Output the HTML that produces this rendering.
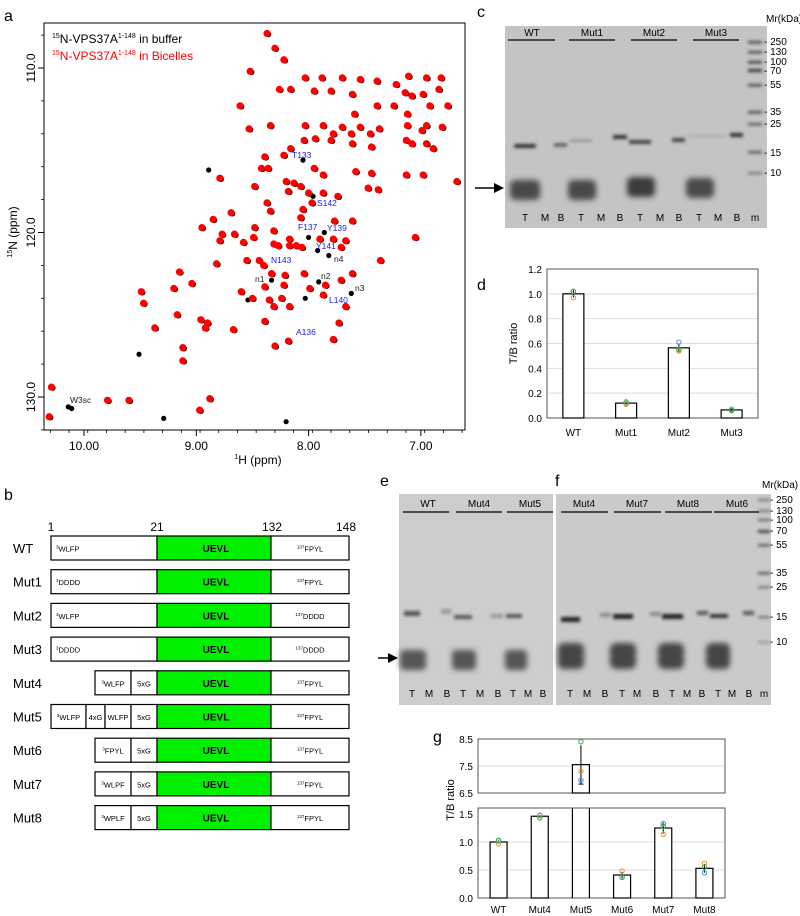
<!DOCTYPE html>
<html><head><meta charset="utf-8"><style>
html,body{margin:0;padding:0;background:#fff}
svg{display:block;font-family:"Liberation Sans",Arial,sans-serif}
</style></head><body>
<svg id="fig" width="800" height="916" viewBox="0 0 800 916" xmlns="http://www.w3.org/2000/svg">
<defs>
<filter id="bl" x="-50%" y="-50%" width="200%" height="200%"><feGaussianBlur stdDeviation="1.6"/></filter>
<filter id="bl2" x="-50%" y="-50%" width="200%" height="200%"><feGaussianBlur stdDeviation="3"/></filter>
</defs>
<!-- panel letters -->
<text x="4" y="21" font-size="16">a</text>
<text x="4" y="500" font-size="16">b</text>
<text x="477" y="17" font-size="16">c</text>
<text x="477" y="290" font-size="16">d</text>
<text x="380" y="486" font-size="16">e</text>
<text x="555" y="486" font-size="16">f</text>
<text x="433" y="742" font-size="16">g</text>

<!-- panel a -->
<g id="nmr">
<rect x="44" y="23" width="421" height="407" fill="none" stroke="#000" stroke-width="1"/>
<g id="peaks"></g>
<g id="nmrAxes"></g>
<text x="52" y="43" font-size="12" fill="#000"><tspan font-size="7" dy="-5">15</tspan><tspan dy="5">N-VPS37A</tspan><tspan font-size="7" dy="-5">1-148</tspan><tspan dy="5"> in buffer</tspan></text>
<text x="52" y="60" font-size="12" fill="#f00"><tspan font-size="7" dy="-5">15</tspan><tspan dy="5">N-VPS37A</tspan><tspan font-size="7" dy="-5">1-148</tspan><tspan dy="5"> in Bicelles</tspan></text>
<g font-size="8.5" fill="#1a1aff">
<text x="292" y="158">T133</text>
<text x="317" y="206">S142</text>
<text x="298" y="230">F137</text>
<text x="327" y="231">Y139</text>
<text x="316" y="249">Y141</text>
<text x="271" y="263">N143</text>
<text x="329" y="303">L140</text>
<text x="296" y="335">A136</text>
</g>
<g font-size="8.5" fill="#222">
<text x="334" y="262">n4</text>
<text x="255" y="282">n1</text>
<text x="321" y="279">n2</text>
<text x="355" y="291">n3</text>
<text x="70" y="403">W3sc</text>
</g>
<text x="258" y="464" font-size="12" text-anchor="middle"><tspan font-size="7" dy="-5">1</tspan><tspan dy="5">H (ppm)</tspan></text>
<text transform="translate(17,232) rotate(-90)" font-size="12" text-anchor="middle"><tspan font-size="7" dy="-5">15</tspan><tspan dy="5">N (ppm)</tspan></text>
</g>

<!-- panel b -->
<g id="constructs">
<g font-size="12">
<text x="51" y="531" text-anchor="middle">1</text>
<text x="157" y="531" text-anchor="middle">21</text>
<text x="272" y="531" text-anchor="middle">132</text>
<text x="346" y="531" text-anchor="middle">148</text>
</g>
<g id="rows"></g>
</g>

<!-- panel c gel -->
<g>
<rect x="505" y="26" width="262" height="202" fill="#c4c4c4"/>
<g filter="url(#bl)" fill="#333">
<rect x="514" y="144" width="22" height="4" rx="2"/>
<rect x="554" y="143" width="13" height="4" fill="#666"/>
<rect x="570" y="139" width="22" height="3" fill="#999"/>
<rect x="613" y="135" width="14" height="4"/>
<rect x="629" y="140" width="22" height="4" fill="#444"/>
<rect x="672" y="138" width="13" height="4" fill="#444"/>
<rect x="688" y="135" width="22" height="2" fill="#a8a8a8"/>
<rect x="710" y="135" width="16" height="2" fill="#a8a8a8"/>
<rect x="730" y="133" width="13" height="4"/>
<rect x="748" y="41" width="14" height="2.5" fill="#444"/><rect x="748" y="51" width="14" height="2.5" fill="#444"/>
<rect x="748" y="61" width="14" height="2.5" fill="#333"/><rect x="748" y="69" width="14" height="3" fill="#333"/>
<rect x="748" y="84" width="14" height="2.5" fill="#444"/><rect x="748" y="111" width="14" height="2.5" fill="#444"/>
<rect x="748" y="123" width="14" height="2.5" fill="#555"/><rect x="748" y="151" width="14" height="2.5" fill="#555"/>
<rect x="748" y="172" width="14" height="2.5" fill="#777"/>
</g>
<g filter="url(#bl2)" fill="#4a4a4a">
<rect x="510" y="180" width="30" height="20" rx="5"/>
<rect x="568" y="180" width="28" height="20" rx="5"/>
<rect x="627" y="177" width="28" height="20" rx="5" fill="#3a3a3a"/>
<rect x="686" y="178" width="28" height="20" rx="5"/>
</g>
<g stroke="#000" stroke-width="1.2">
<line x1="508" y1="40" x2="555" y2="40"/><line x1="569" y1="40" x2="615" y2="40"/>
<line x1="631" y1="40" x2="677" y2="40"/><line x1="693" y1="40" x2="739" y2="40"/>
</g>
<g font-size="10" text-anchor="middle">
<text x="532" y="36">WT</text><text x="592" y="36">Mut1</text><text x="654" y="36">Mut2</text><text x="716" y="36">Mut3</text>
</g>
<g font-size="10" text-anchor="middle">
<text x="525" y="221">T</text><text x="545" y="221">M</text><text x="561" y="221">B</text>
<text x="581" y="221">T</text><text x="601" y="221">M</text><text x="620" y="221">B</text>
<text x="640" y="221">T</text><text x="660" y="221">M</text><text x="679" y="221">B</text>
<text x="699" y="221">T</text><text x="718" y="221">M</text><text x="737" y="221">B</text>
<text x="755" y="221">m</text>
</g>
<g font-size="10">
<text x="766" y="22">Mr(kDa)</text>
<text x="764" y="45">- 250</text><text x="764" y="55">- 130</text><text x="764" y="65">- 100</text><text x="764" y="74">- 70</text>
<text x="764" y="88">- 55</text><text x="764" y="115">- 35</text><text x="764" y="127">- 25</text><text x="764" y="156">- 15</text><text x="764" y="176">- 10</text>
</g>
<path d="M475 188 H500" stroke="#000" stroke-width="1.5"/><path d="M504 188 L494 183 L494 193 Z" fill="#000"/>
</g>

<!-- panel d -->
<g id="chartD"></g>

<!-- panels e,f gel -->
<g>
<rect x="399" y="494" width="154" height="211" fill="#cdcdcd"/>
<g filter="url(#bl)">
<rect x="404" y="611" width="16" height="5" fill="#555"/><rect x="441" y="609" width="10" height="5" fill="#999"/>
<rect x="454" y="615" width="18" height="4" fill="#555"/><rect x="491" y="614" width="12" height="4" fill="#999"/>
<rect x="506" y="614" width="16" height="4" fill="#555"/>
</g>
<g filter="url(#bl2)" fill="#555">
<rect x="400" y="650" width="26" height="20" rx="4"/><rect x="452" y="650" width="24" height="20" rx="4"/><rect x="505" y="650" width="22" height="20" rx="4"/>
</g>
<g stroke="#000" stroke-width="1.2"><line x1="403" y1="512" x2="449" y2="512"/><line x1="456" y1="512" x2="502" y2="512"/><line x1="507" y1="512" x2="553" y2="512"/></g>
<g font-size="10" text-anchor="middle"><text x="428" y="507">WT</text><text x="479" y="507">Mut4</text><text x="530" y="507">Mut5</text></g>
<g font-size="10" text-anchor="middle">
<text x="412" y="697">T</text><text x="429" y="697">M</text><text x="447" y="697">B</text>
<text x="463" y="697">T</text><text x="480" y="697">M</text><text x="498" y="697">B</text>
<text x="513" y="697">T</text><text x="528" y="697">M</text><text x="543" y="697">B</text>
</g>
<path d="M378 658 H394" stroke="#000" stroke-width="1.5"/><path d="M398 658 L388 653 L388 663 Z" fill="#000"/>
</g>
<g>
<rect x="556" y="494" width="215" height="211" fill="#cacaca"/>
<g filter="url(#bl)">
<rect x="561" y="617" width="19" height="5" fill="#222"/><rect x="600" y="613" width="11" height="4" fill="#888"/>
<rect x="613" y="614" width="20" height="5" fill="#222"/><rect x="650" y="612" width="11" height="4" fill="#888"/>
<rect x="662" y="614" width="21" height="5" fill="#222"/><rect x="697" y="611" width="11" height="4" fill="#555"/>
<rect x="710" y="614" width="18" height="4" fill="#333"/><rect x="743" y="611" width="11" height="4" fill="#555"/>
<rect x="758" y="499" width="12" height="2" fill="#666"/><rect x="758" y="510" width="12" height="2" fill="#666"/>
<rect x="758" y="519" width="12" height="2" fill="#555"/><rect x="758" y="530" width="12" height="3" fill="#444"/>
<rect x="758" y="544" width="12" height="2.5" fill="#555"/><rect x="758" y="572" width="12" height="2.5" fill="#555"/>
<rect x="758" y="586" width="12" height="2.5" fill="#777"/><rect x="758" y="616" width="12" height="2.5" fill="#777"/>
<rect x="758" y="641" width="12" height="2.5" fill="#999"/>
</g>
<g filter="url(#bl2)" fill="#444">
<rect x="558" y="643" width="26" height="26" rx="6"/><rect x="610" y="643" width="26" height="26" rx="6"/>
<rect x="658" y="643" width="26" height="26" rx="6"/><rect x="706" y="643" width="24" height="26" rx="6"/>
</g>
<g stroke="#000" stroke-width="1.2"><line x1="561" y1="512" x2="608" y2="512"/><line x1="614" y1="512" x2="661" y2="512"/><line x1="665" y1="512" x2="712" y2="512"/><line x1="714" y1="512" x2="759" y2="512"/></g>
<g font-size="10" text-anchor="middle"><text x="584" y="507">Mut4</text><text x="637" y="507">Mut7</text><text x="688" y="507">Mut8</text><text x="737" y="507">Mut6</text></g>
<g font-size="10" text-anchor="middle">
<text x="570" y="697">T</text><text x="587" y="697">M</text><text x="605" y="697">B</text>
<text x="622" y="697">T</text><text x="637" y="697">M</text><text x="656" y="697">B</text>
<text x="672" y="697">T</text><text x="687" y="697">M</text><text x="702" y="697">B</text>
<text x="718" y="697">T</text><text x="732" y="697">M</text><text x="749" y="697">B</text><text x="764" y="697">m</text>
</g>
<g font-size="10">
<text x="762" y="488">Mr(kDa)</text>
<text x="770" y="503">- 250</text><text x="770" y="514">- 130</text><text x="770" y="523">- 100</text><text x="770" y="534">- 70</text>
<text x="770" y="548">- 55</text><text x="770" y="576">- 35</text><text x="770" y="590">- 25</text><text x="770" y="620">- 15</text><text x="770" y="645">- 10</text>
</g>
</g>

<!-- panel g -->
<g id="chartG"></g>
</svg>
<script>
// ===== NMR data (1H ppm, 15N ppm) =====
const redH=[8.37,8.30,8.22,8.52,8.26,8.16,8.61,8.03,7.88,7.70,7.54,7.39,7.11,6.95,6.82,7.22,7.14,7.08,6.98,6.84,7.95,7.80,7.61,7.59,7.39,7.24,7.12,6.92,6.76,8.53,8.34,8.03,7.87,7.70,7.54,7.37,7.12,6.95,6.81,7.78,7.62,7.45,6.99,8.04,7.94,7.80,7.61,7.44,7.13,7.08,6.95,6.89,8.16,8.22,8.39,8.42,8.36,7.95,7.87,7.58,7.44,7.13,6.98,6.68,8.79,8.48,8.20,8.13,8.18,8.07,8.00,7.87,7.74,7.47,7.38,8.37,7.97,8.34,8.05,8.85,8.69,8.07,7.77,7.61,8.95,8.48,8.77,8.66,8.31,8.17,7.90,7.78,7.67,8.79,8.58,8.49,8.31,8.27,8.17,8.11,8.06,7.71,7.05,8.55,8.44,8.40,8.82,7.36,9.15,8.33,8.21,8.04,7.61,7.85,7.71,7.99,8.39,8.22,9.20,9.04,9.49,9.47,8.60,8.50,8.35,8.24,8.31,8.17,7.87,7.67,9.17,8.96,8.90,8.92,9.37,8.67,8.39,7.73,7.78,8.30,8.18,9.12,9.12,10.29,9.79,9.60,8.88,8.97,10.31];
const redN=[107.9,108.8,109.5,110.2,111.3,111.3,112.3,110.6,110.6,110.6,110.7,110.8,110.5,110.6,110.6,111.0,111.5,111.7,111.6,111.3,111.4,111.4,111.6,112.8,112.3,112.3,112.8,112.3,112.3,113.7,113.5,113.5,113.5,113.6,113.6,113.7,113.5,113.5,113.6,114.0,114.0,114.0,113.8,114.4,114.3,114.4,114.6,114.8,114.4,114.6,114.6,114.9,114.9,115.3,115.4,116.1,116.1,116.1,116.5,116.3,116.4,116.5,116.5,116.9,116.7,117.2,116.9,117.0,117.5,117.2,117.6,117.6,117.8,117.3,117.4,118.2,118.2,118.7,118.6,119.2,118.8,119.1,119.3,119.3,119.7,119.7,120.1,120.1,119.9,120.4,120.4,120.4,120.5,120.5,120.6,120.3,120.7,120.8,120.8,120.8,120.9,120.9,120.3,121.7,121.7,122.0,121.9,121.7,122.4,122.5,122.6,122.5,122.5,123.2,122.9,123.4,123.3,123.2,123.4,123.1,123.6,124.3,123.6,124.0,124.1,124.0,124.5,124.5,123.8,124.5,125.0,125.3,125.5,125.8,125.8,125.9,125.4,125.5,126.5,126.9,126.6,127.0,127.8,129.4,130.2,130.2,130.1,130.8,131.2];
const blackH=[8.89,9.51,9.29,8.20,10.14,8.33,7.91,7.62,7.82,7.92,8.00,7.86,7.96,8.05,8.03,8.54,10.11];
const blackN=[116.2,127.4,131.3,131.5,130.6,122.9,123.0,123.7,121.4,121.1,120.3,120.0,117.8,115.6,124.0,124.1,130.7];
const xTicksA=[10,9,8,7];
const yTicksA=[110,120,130];
const NS='http://www.w3.org/2000/svg';
function mk(tag,attrs,parent){const e=document.createElementNS(NS,tag);for(const k in attrs)e.setAttribute(k,attrs[k]);parent.appendChild(e);return e;}
const hx=h=>84+(10-h)*112.3, ny=n=>68+(n-110)*16.45;
const pk=document.getElementById('peaks');
redH.forEach((h,i)=>{const c=mk('circle',{cx:hx(h)+1.2,cy:ny(redN[i])+0.8,r:3,fill:'#000'},pk);

});
blackH.forEach((h,i)=>{const c=mk('circle',{cx:hx(h),cy:ny(blackN[i]),r:2.6,fill:'#000'},pk);

});
redH.forEach((h,i)=>{const c=mk('circle',{cx:hx(h),cy:ny(redN[i]),r:3.6,fill:'#f00'},pk);

});
const ax=document.getElementById('nmrAxes');
for(let v=10.3;v>=6.6;v-=1/6){mk('line',{x1:hx(v),x2:hx(v),y1:430,y2:433,stroke:'#000','stroke-width':0.8},ax);}
xTicksA.forEach(v=>{mk('line',{x1:hx(v),x2:hx(v),y1:430,y2:436,stroke:'#000'},ax);
const t=mk('text',{x:hx(v),y:450,'font-size':12,'text-anchor':'middle'},ax);t.textContent=v.toFixed(2);

});
for(let v=108;v<=132;v+=2){mk('line',{x1:41,x2:44,y1:ny(v),y2:ny(v),stroke:'#000','stroke-width':0.8},ax);}
yTicksA.forEach(v=>{mk('line',{x1:38,x2:44,y1:ny(v),y2:ny(v),stroke:'#000'},ax);
const t=mk('text',{transform:`translate(35,${ny(v)}) rotate(-90)`,'font-size':12,'text-anchor':'middle'},ax);t.textContent=v.toFixed(1);

});

// ===== constructs =====
const rowNames=['WT','Mut1','Mut2','Mut3','Mut4','Mut5','Mut6','Mut7','Mut8'];
const nTerm=[[['WLFP','3']],[['DDDD','3']],[['WLFP','3']],[['DDDD','3']],[['WLFP','3'],['5xG','']],[['WLFP','3'],['4xG',''],['WLFP',''],['5xG','']],[['FPYL','3'],['5xG','']],[['WLPF','3'],['5xG','']],[['WPLF','3'],['5xG','']]];
const cTerm=['FPYL','FPYL','DDDD','DDDD','FPYL','FPYL','FPYL','FPYL','FPYL'];
const rowsG=document.getElementById('rows');
rowNames.forEach((nm,i)=>{
 const y=536+i*33.7, g=mk('g',{},rowsG);
 
 
 const l=mk('text',{x:13,y:y+17,'font-size':13},g);l.textContent=nm;
 let segs;
 if(i<4) segs=[[51,157]]; else if(i===5) segs=[[51,86],[86,105],[105,131],[131,157]]; else segs=[[95,131],[131,157]];
 segs.forEach((s,j)=>{mk('rect',{x:s[0],y:y,width:s[1]-s[0],height:24,fill:'#fff',stroke:'#000','stroke-width':1.2},g);
  const lab=nTerm[i][j]; const t=mk('text',{x:(i<4?56:(s[0]+s[1])/2),y:y+15.5,'font-size':7.5,'text-anchor':(i<4?'start':'middle')},g);
  if(lab[1]){const ts=mk('tspan',{'font-size':4.5,dy:-3},t);ts.textContent=lab[1];const t2=mk('tspan',{dy:3},t);t2.textContent=lab[0];}else t.textContent=lab[0];});
 mk('rect',{x:157,y:y,width:114,height:24,fill:'#00f000',stroke:'#000','stroke-width':1.2},g);
 const u=mk('text',{x:216,y:y+16,'font-size':10,'font-weight':'bold','text-anchor':'middle'},g);u.textContent='UEVL';
 mk('rect',{x:271,y:y,width:78,height:24,fill:'#fff',stroke:'#000','stroke-width':1.2},g);
 const c=mk('text',{x:310,y:y+15.5,'font-size':7.5,'text-anchor':'middle'},g);
 const s1=mk('tspan',{'font-size':4.5,dy:-3},c);s1.textContent='137';const s2=mk('tspan',{dy:3},c);s2.textContent=cTerm[i];
});

// ===== chart d =====
const catD=['WT','Mut1','Mut2','Mut3'];
const meanD=[1.0,0.12,0.565,0.065];
const errD=[0.03,0.01,0.035,0.007];
const ptsD=[[1.02,0.97,1.02],[0.12,0.11,0.13],[0.61,0.54,0.55],[0.07,0.06,0.06]];
const ticksD=[0,0.2,0.4,0.6,0.8,1.0,1.2];
const ptCol=['#4a90d9','#f08a30','#2db34a'];
(function(){
 const g=document.getElementById('chartD');
 const L=547,R=758,T=269,B=418,yv=v=>B-(v/1.2)*(B-T);
 const bx=i=>L+(i+0.5)*(R-L)/catD.length;
 ticksD.forEach(v=>{if(v>0&&v<1.2)mk('line',{x1:L,x2:R,y1:yv(v),y2:yv(v),stroke:'#ddd'},g);
  const t=mk('text',{x:L-5,y:yv(v)+4,'font-size':10,'text-anchor':'end'},g);t.textContent=v.toFixed(1);
  
  });
 mk('rect',{x:L,y:T,width:R-L,height:B-T,fill:'none',stroke:'#555'},g);
 catD.forEach((c,i)=>{const x=bx(i);
  const r=mk('rect',{x:x-10.5,y:yv(meanD[i]),width:21,height:B-yv(meanD[i]),fill:'#fff',stroke:'#000','stroke-width':1.2},g);
  
  
  mk('line',{x1:x,x2:x,y1:yv(meanD[i]+errD[i]),y2:yv(meanD[i]-errD[i]),stroke:'#000'},g);
  ptsD[i].forEach((p,k)=>{const cc=mk('circle',{cx:x,cy:yv(p),r:2.2,fill:'none',stroke:ptCol[k],'stroke-width':1},g);
   
   });
  const t=mk('text',{x:x,y:436,'font-size':10,'text-anchor':'middle'},g);t.textContent=c;
  
  });
 const tt=mk('text',{transform:`translate(517,${(T+B)/2}) rotate(-90)`,'font-size':11,'text-anchor':'middle'},g);tt.textContent='T/B ratio';
 
 
})();

// ===== chart g (broken axis) =====
const catG=['WT','Mut4','Mut5','Mut6','Mut7','Mut8'];
const meanG=[1.0,1.46,7.55,0.41,1.25,0.53];
const errG=[0.03,0.02,0.72,0.06,0.1,0.08];
const ptsG=[[1.03,0.97,1.02],[1.47,1.48,1.43],[6.97,7.3,8.4],[0.37,0.48,0.37],[1.33,1.14,1.28],[0.45,0.62,0.55]];
const ticksGTop=[6.5,7.5,8.5];
const ticksGBot=[0,0.5,1.0,1.5];
(function(){
 const g=document.getElementById('chartG');
 const L=478,R=725;
 const tT=739,tB=793,yt=v=>tB-(v-6.5)/2*(tB-tT);
 const bT=808,bB=898,yb=v=>bB-v*56;
 const bx=i=>L+(i+0.5)*(R-L)/catG.length;
 ticksGTop.forEach(v=>{if(v===7.5)mk('line',{x1:L,x2:R,y1:yt(v),y2:yt(v),stroke:'#ddd'},g);
  const t=mk('text',{x:L-5,y:yt(v)+4,'font-size':10,'text-anchor':'end'},g);t.textContent=v.toFixed(1);
  
  });
 ticksGBot.forEach(v=>{if(v>0&&v<1.5)mk('line',{x1:L,x2:R,y1:yb(v),y2:yb(v),stroke:'#ddd'},g);
  const t=mk('text',{x:L-5,y:yb(v)+4,'font-size':10,'text-anchor':'end'},g);t.textContent=v.toFixed(1);
  
  });
 mk('rect',{x:L,y:tT,width:R-L,height:tB-tT,fill:'none',stroke:'#555'},g);
 mk('rect',{x:L,y:bT,width:R-L,height:bB-bT,fill:'none',stroke:'#555'},g);
 catG.forEach((c,i)=>{const x=bx(i),m=meanG[i];
  if(m>1.6){
   const r1=mk('rect',{x:x-8.5,y:yt(m),width:17,height:tB-yt(m),fill:'#fff',stroke:'#000','stroke-width':1.2},g);
   
   
   const r2=mk('path',{d:`M${x-8.5} ${bB} V${bT} M${x+8.5} ${bB} V${bT}`,stroke:'#000','stroke-width':1.2,fill:'none'},g);
   
   
   mk('line',{x1:x,x2:x,y1:yt(m+errG[i]),y2:yt(m-errG[i]),stroke:'#000'},g);
   mk('line',{x1:x-2.5,x2:x+2.5,y1:yt(m-errG[i]),y2:yt(m-errG[i]),stroke:'#000'},g);
   ptsG[i].forEach((p,k)=>{const cc=mk('circle',{cx:x,cy:yt(p),r:2.2,fill:'none',stroke:ptCol[k]},g);
    
    });
  } else {
   const r=mk('rect',{x:x-8.5,y:yb(m),width:17,height:bB-yb(m),fill:'#fff',stroke:'#000','stroke-width':1.2},g);
   
   
   mk('line',{x1:x,x2:x,y1:yb(m+errG[i]),y2:yb(m-errG[i]),stroke:'#000'},g);
   ptsG[i].forEach((p,k)=>{const cc=mk('circle',{cx:x,cy:yb(p),r:2.2,fill:'none',stroke:ptCol[k]},g);
    
    });
  }
  const t=mk('text',{x:x,y:913,'font-size':10,'text-anchor':'middle'},g);t.textContent=c;
  
  });
 const tt=mk('text',{transform:`translate(454,800) rotate(-90)`,'font-size':11,'text-anchor':'middle'},g);tt.textContent='T/B ratio';
 
 
})();
</script>
</body></html>
